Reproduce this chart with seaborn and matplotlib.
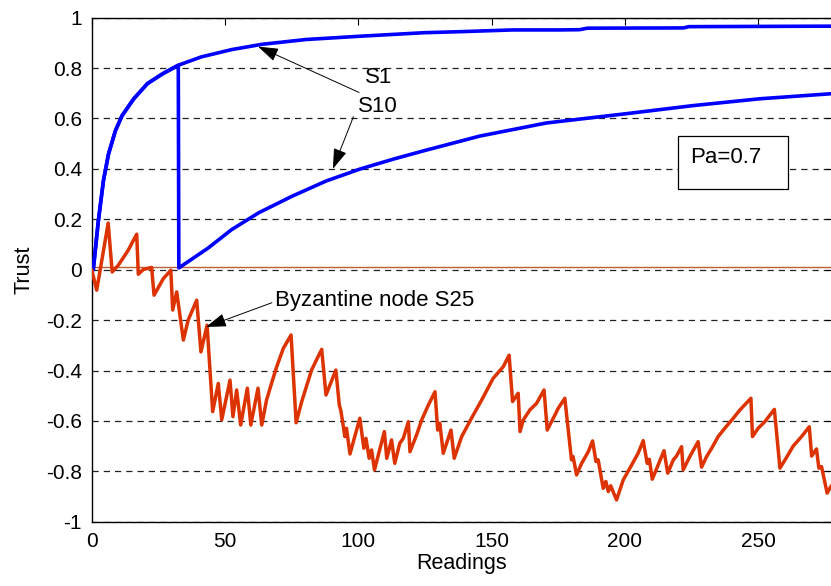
import numpy as np
import pandas as pd
import matplotlib
matplotlib.use("Agg")
import matplotlib.pyplot as plt
import seaborn as sns
from matplotlib.patches import Rectangle

# ---------------- data ----------------
s1_x = [0, 0.6, 2.5, 4.4, 6.3, 8.9, 11.4, 15.8, 20.9, 26.6, 32.5, 41.1, 52.5, 63.9, 80.4,
        100.6, 124.7, 138, 158, 175, 183, 186, 222, 224, 277.5]
s1_y = [0, 0.0, 0.193, 0.352, 0.458, 0.551, 0.611, 0.678, 0.738, 0.777, 0.811, 0.844, 0.873,
        0.894, 0.913, 0.926, 0.940, 0.944, 0.951, 0.951, 0.952, 0.958, 0.959, 0.964, 0.966]

s10_x = [0, 0.6, 2.5, 4.4, 6.3, 8.9, 11.4, 15.8, 20.9, 26.6, 32.5,
         32.7, 43.7, 52.5, 62.7, 75.3, 88.0, 100.6, 113.3, 124.7, 145.6, 170.6, 200.7, 225.7,
         250.7, 277.5]
s10_y = [0, 0.0, 0.193, 0.352, 0.458, 0.551, 0.611, 0.678, 0.738, 0.777, 0.811,
         0.007, 0.086, 0.159, 0.226, 0.292, 0.352, 0.399, 0.439, 0.472, 0.530, 0.582, 0.619,
         0.651, 0.678, 0.698]

s25_x = [0, 1.9, 6.2, 7.7, 10.0, 13.7, 16.9, 17.5, 19.4, 22.5, 23.4, 26.9, 29.7, 30.4, 31.9,
         34.4, 36.2, 39.4, 41.0, 43.3, 45.4, 47.5, 48.8, 51.9, 53.0, 54.4, 55.9, 58.4, 59.7,
         62.4, 63.8, 65.6, 67.5, 69.4, 71.9, 74.8, 76.7, 78.8, 82.5, 84.6, 86.3, 87.9, 91.6,
         92.9, 93.5, 95.0, 95.6, 96.9, 100.6, 102.1, 102.9, 104.1, 105.0, 106.1, 109.8, 110.7,
         112.5, 113.7, 115.6, 116.9, 118.8, 119.4, 121.9, 123.8, 126.3, 128.8, 129.8, 130.6,
         131.9, 134.8, 136.0, 138.8, 142.5, 146.3, 150.6, 154.4, 156.6, 157.9, 160.0, 160.7,
         161.9, 164.4, 166.9, 169.7, 170.9, 173.8, 175.0, 177.5, 180.0, 180.6, 181.9, 183.8,
         186.3, 187.9, 189.2, 190.0, 191.9, 192.9, 193.8, 194.7, 196.9, 199.4, 202.6, 205.0,
         206.9, 208.4, 209.2, 210.3, 212.5, 214.7, 216.1, 218.2, 219.4, 221.3, 221.9, 224.4,
         227.5, 228.8, 230.7, 232.6, 235.0, 237.5, 240.7, 243.2, 247.3, 247.9, 250.0, 252.5,
         256.1, 258.2, 260.7, 263.2, 266.3, 269.2, 270.1, 271.9, 272.8, 273.8, 275.9, 277.3,
         279.0]
s25_y = [0.0, -0.081, 0.185, -0.009, 0.018, 0.077, 0.141, -0.018, 0.001, 0.009, -0.101, -0.035,
         -0.002, -0.160, -0.088, -0.279, -0.200, -0.121, -0.326, -0.22, -0.563, -0.451, -0.595,
         -0.438, -0.583, -0.477, -0.616, -0.470, -0.616, -0.470, -0.616, -0.517, -0.450, -0.385,
         -0.312, -0.259, -0.607, -0.523, -0.398, -0.352, -0.316, -0.497, -0.398, -0.537, -0.56,
         -0.662, -0.629, -0.731, -0.589, -0.708, -0.669, -0.748, -0.715, -0.794, -0.642, -0.748,
         -0.675, -0.768, -0.688, -0.669, -0.603, -0.722, -0.655, -0.596, -0.537, -0.484, -0.636,
         -0.609, -0.728, -0.636, -0.748, -0.662, -0.589, -0.517, -0.431, -0.385, -0.339, -0.523,
         -0.490, -0.642, -0.596, -0.556, -0.530, -0.477, -0.636, -0.576, -0.550, -0.510, -0.754,
         -0.741, -0.814, -0.768, -0.722, -0.679, -0.761, -0.754, -0.867, -0.840, -0.880, -0.857,
         -0.913, -0.834, -0.774, -0.728, -0.678, -0.768, -0.752, -0.831, -0.774, -0.718, -0.807,
         -0.754, -0.739, -0.702, -0.794, -0.741, -0.682, -0.783, -0.741, -0.708, -0.662, -0.629,
         -0.589, -0.556, -0.510, -0.662, -0.629, -0.603, -0.554, -0.787, -0.744, -0.699, -0.662,
         -0.623, -0.739, -0.711, -0.787, -0.781, -0.886, -0.860, -0.84]

zero_level = 0.012
x_ticks = [0, 50, 100, 150, 200, 250]
y_ticks = [-1, -0.8, -0.6, -0.4, -0.2, 0, 0.2, 0.4, 0.6, 0.8, 1]
y_tick_labels = ["-1", "-0.8", "-0.6", "-0.4", "-0.2", "0", "0.2", "0.4", "0.6", "0.8", "1"]

# ---------------- style ----------------
sns.set_style("white")
plt.rcParams['font.family'] = ['Liberation Sans', 'DejaVu Sans']
plt.rcParams['xtick.direction'] = 'in'
plt.rcParams['ytick.direction'] = 'in'
plt.rcParams['text.color'] = 'black'
plt.rcParams['axes.labelcolor'] = 'black'
plt.rcParams['xtick.color'] = 'black'
plt.rcParams['ytick.color'] = 'black'

fig = plt.figure(figsize=(8.31, 5.86), dpi=100)
ax = fig.add_axes([0.1103, 0.1095, 0.8905, 0.8605])

df_s1 = pd.DataFrame({"x": s1_x, "y": s1_y})
df_s10 = pd.DataFrame({"x": s10_x, "y": s10_y})
df_s25 = pd.DataFrame({"x": s25_x, "y": s25_y})

ax.axhline(zero_level, color='#b8603a', lw=1.0, zorder=1)
sns.lineplot(data=df_s10, x="x", y="y", ax=ax, color='#0000ff', lw=2.6,
             sort=False, estimator=None, zorder=3)
sns.lineplot(data=df_s1, x="x", y="y", ax=ax, color='#0000ff', lw=2.6,
             sort=False, estimator=None, zorder=3)
sns.lineplot(data=df_s25, x="x", y="y", ax=ax, color='#dc3300', lw=2.5,
             sort=False, estimator=None, zorder=3)

ax.set_xlim(0, 277.6)
ax.set_ylim(-1, 1)
ax.set_xticks(x_ticks)
ax.set_xticklabels([str(t) for t in x_ticks])
ax.set_yticks(y_ticks)
ax.set_yticklabels(y_tick_labels)
ax.tick_params(axis='both', labelsize=15, length=5, width=0.8, color='k',
               labelcolor='black', top=True, right=True, pad=7)
ax.yaxis.grid(True, linestyle=(0, (5, 4)), color='#222222', lw=0.9)
ax.xaxis.grid(False)
for s in ax.spines.values():
    s.set_color('k')
    s.set_linewidth(1.0)

ax.set_xlabel("Readings", fontsize=15.5, labelpad=2, color='black')
ax.set_ylabel("Trust", fontsize=15.5, labelpad=8, color='black')

arrow = dict(arrowstyle='-|>,head_length=0.9,head_width=0.3', color='k', lw=0.7,
             shrinkA=0, shrinkB=0, mutation_scale=14)
ax.annotate("", xy=(62.4, 0.885), xytext=(100.3, 0.703), arrowprops=arrow)
ax.annotate("", xy=(90.5, 0.400), xytext=(98.2, 0.607), arrowprops=arrow)
ax.annotate("", xy=(42.9, -0.227), xytext=(67.6, -0.131), arrowprops=arrow)

ax.text(107.5, 0.763, "S1", fontsize=16, ha='center', va='center')
ax.text(107.5, 0.648, "S10", fontsize=16, ha='center', va='center')
ax.text(68.8, -0.123, "Byzantine node S25", fontsize=16, ha='left', va='center')

ax.add_patch(Rectangle((219.8, 0.319), 41.3, 0.211, fill=True, facecolor='white',
                       edgecolor='k', lw=0.9, zorder=4))
ax.text(224.4, 0.445, "Pa=0.7", fontsize=16, ha='left', va='center', zorder=5)

fig.savefig("out.png", dpi=100)
